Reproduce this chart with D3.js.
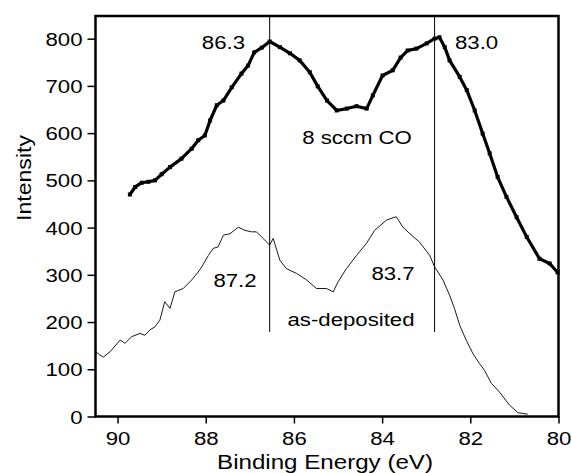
<!DOCTYPE html>
<html>
<head>
<meta charset="utf-8">
<script src="https://cdn.jsdelivr.net/npm/d3@7"></script>
<style>
  body { margin: 0; background: #fff; }
  text { font-family: Arial, "Liberation Sans", Helvetica, sans-serif; fill: #000; }
</style>
</head>
<body>
<div id="viz"></div>
<script>
// binding energy (eV) / intensity
const coEnergy = [89.72, 89.60, 89.45, 89.30, 89.15, 89.00, 88.81, 88.55, 88.32, 88.17, 88.02, 87.90, 87.75, 87.60, 87.41, 87.19, 87.04, 86.90, 86.73, 86.55, 86.32, 86.09, 85.87, 85.64, 85.46, 85.25, 85.03, 84.80, 84.58, 84.35, 84.21, 83.99, 83.76, 83.58, 83.42, 83.22, 82.99, 82.81, 82.70, 82.58, 82.47, 82.24, 82.08, 81.90, 81.72, 81.56, 81.38, 81.18, 80.95, 80.72, 80.43, 80.20, 80.02];
const coIntensity = [470, 486, 495, 497, 500, 513, 528, 546, 567, 585, 595, 627, 659, 669, 697, 726, 743, 771, 781, 794, 782, 769, 754, 729, 699, 669, 648, 652, 657, 652, 680, 722, 733, 760, 775, 779, 790, 800, 803, 782, 754, 719, 691, 648, 599, 557, 507, 465, 422, 380, 334, 324, 305];

const depEnergy = [90.49, 90.40, 90.32, 90.17, 89.94, 89.83, 89.68, 89.49, 89.38, 89.27, 89.15, 89.04, 88.93, 88.81, 88.70, 88.51, 88.32, 88.17, 88.09, 87.94, 87.83, 87.72, 87.60, 87.45, 87.26, 87.11, 86.96, 86.85, 86.70, 86.55, 86.47, 86.32, 86.17, 85.94, 85.71, 85.49, 85.26, 85.11, 85.00, 84.81, 84.58, 84.36, 84.17, 83.90, 83.68, 83.53, 83.37, 83.15, 82.92, 82.81, 82.62, 82.47, 82.36, 82.24, 82.09, 81.94, 81.79, 81.68, 81.52, 81.34, 81.11, 80.92, 80.70];
const depIntensity = [137, 130, 126, 137, 162, 155, 169, 176, 172, 183, 190, 204, 243, 229, 264, 271, 289, 306, 317, 341, 356, 359, 384, 387, 401, 394, 391, 391, 377, 363, 377, 331, 313, 303, 289, 271, 271, 264, 285, 313, 341, 366, 394, 416, 423, 401, 387, 369, 341, 317, 289, 257, 229, 193, 161, 133, 112, 98, 70, 52, 24, 8, 5];

const xTicks = [90, 88, 86, 84, 82, 80];
const yTicks = [0, 100, 200, 300, 400, 500, 600, 700, 800];

// peak markers: energy, lower end of line
const peakLines = [86.55, 82.81];
const peakLineBottom = 179;

const labels = [
  { text: '86.3', e: 86.55, i: 0, px: 245, py: 49, anchor: 'end' },
  { text: '83.0', px: 455, py: 49, anchor: 'start' },
  { text: '8 sccm CO', px: 357, py: 144, anchor: 'middle' },
  { text: '87.2', px: 235, py: 287, anchor: 'middle' },
  { text: '83.7', px: 393, py: 280, anchor: 'middle' },
  { text: 'as-deposited', px: 351, py: 326, anchor: 'middle' }
];

const width = 572, height = 473;
const stretch = 1.2; // glyphs in the original are wider than tall

const svg = d3.select('#viz').append('svg')
  .attr('width', width)
  .attr('height', height);

const x = d3.scaleLinear().domain([90.5, 80]).range([95.5, 558.5]);
const y = d3.scaleLinear().domain([0, 848]).range([416.5, 16]);

// y axis ticks + labels
const yAxis = svg.append('g').attr('transform', 'translate(95.5,0)')
  .call(d3.axisLeft(y).tickValues(yTicks).tickSize(8).tickSizeOuter(0).tickPadding(5));
yAxis.select('.domain').remove();
yAxis.selectAll('.tick line').attr('stroke-width', 1.5);
yAxis.selectAll('.tick text')
  .attr('x', null).attr('dy', null)
  .style('font-size', '18.5px')
  .attr('text-anchor', 'end')
  .attr('transform', `translate(-13,6.6) scale(${stretch},1)`)
  .attr('font-family', null);

// x axis
const xAxis = svg.append('g').attr('transform', 'translate(0,416.5)')
  .call(d3.axisBottom(x).tickValues(xTicks).tickSize(7).tickSizeOuter(0));
xAxis.select('.domain').remove();
xAxis.selectAll('.tick line').attr('stroke-width', 1.5);
xAxis.selectAll('.tick text')
  .attr('y', null).attr('dy', null)
  .style('font-size', '18.5px')
  .attr('text-anchor', 'middle')
  .attr('transform', `translate(0,28) scale(${stretch},1)`)
  .attr('font-family', null);

// frame
svg.append('rect')
  .attr('x', x(90.5)).attr('y', y(848))
  .attr('width', x(80) - x(90.5))
  .attr('height', y(0) - y(848))
  .attr('fill', 'none')
  .attr('stroke', '#000')
  .attr('stroke-width', 2.5);

// peak position lines
svg.selectAll('.peak')
  .data(peakLines)
  .enter().append('line')
  .attr('class', 'peak')
  .attr('x1', d => x(d)).attr('x2', d => x(d))
  .attr('y1', y(848)).attr('y2', y(peakLineBottom))
  .attr('stroke', '#000')
  .attr('stroke-width', 1);

const line = d3.line().x(d => x(d[0])).y(d => y(d[1]));

// as-deposited (thin)
const dep = depEnergy.map((e, i) => [e, depIntensity[i]]);
svg.append('path')
  .datum(dep)
  .attr('d', line)
  .attr('fill', 'none')
  .attr('stroke', '#000')
  .attr('stroke-width', 0.9);

// 8 sccm CO (thick, with square markers)
const co = coEnergy.map((e, i) => [e, coIntensity[i]]);
svg.append('path')
  .datum(co)
  .attr('d', line)
  .attr('fill', 'none')
  .attr('stroke', '#000')
  .attr('stroke-width', 3.2)
  .attr('stroke-linejoin', 'round');
svg.selectAll('.mk')
  .data(co)
  .enter().append('rect')
  .attr('class', 'mk')
  .attr('x', d => x(d[0]) - 2).attr('y', d => y(d[1]) - 2)
  .attr('width', 4).attr('height', 4)
  .attr('fill', '#000');

// annotations
svg.selectAll('.ann')
  .data(labels)
  .enter().append('text')
  .attr('class', 'ann')
  .attr('transform', d => `translate(${d.px},${d.py}) scale(${stretch},1)`)
  .attr('text-anchor', d => d.anchor)
  .style('font-size', '18.5px')
  .text(d => d.text);

// axis titles
svg.append('text')
  .attr('transform', 'translate(325,469) scale(1.15,1)')
  .attr('text-anchor', 'middle')
  .style('font-size', '21px')
  .text('Binding Energy (eV)');

svg.append('text')
  .attr('transform', 'translate(31,178) rotate(-90) scale(1.1,1)')
  .attr('text-anchor', 'middle')
  .style('font-size', '21px')
  .text('Intensity');
</script>
</body>
</html>
